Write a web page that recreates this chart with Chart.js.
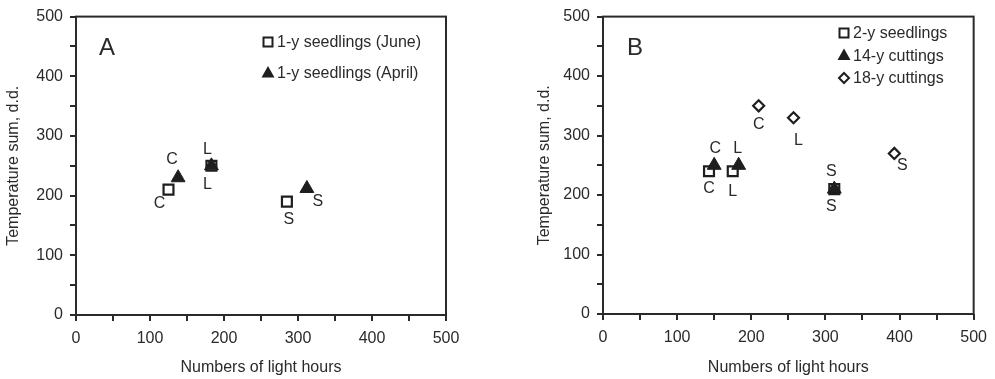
<!DOCTYPE html>
<html>
<head>
<meta charset="utf-8">
<script src="https://cdn.jsdelivr.net/npm/chart.js@4.4.1/dist/chart.umd.min.js"></script>
<style>
  html, body { margin: 0; padding: 0; background: #fff; }
  #wrap { position: relative; width: 995px; height: 379px; }
  .pan  { position: absolute; top: 0; height: 379px; }
  #pA   { left: 0;     width: 470px; }
  #pB   { left: 526px; width: 469px; }
</style>
</head>
<body>
<div id="wrap">
  <div class="pan" id="pA"><canvas id="chA"></canvas></div>
  <div class="pan" id="pB"><canvas id="chB"></canvas></div>
</div>
<script>
// ============================================================
// Temperature sum vs light hours — two panels (A, B)
// ============================================================

// ── Datos ────────────────────────────────────────────────────
const X_LABELLED = [0, 100, 200, 300, 400, 500];
const Y_LABELLED = [0, 100, 200, 300, 400, 500];
const PT_NAMES   = ['C', 'L', 'S'];

// Panel A
const A_JUNE_X  = [125, 183, 285];
const A_JUNE_Y  = [210, 250, 190];
const A_APRIL_X = [138, 183, 312];
const A_APRIL_Y = [230, 250, 212];

// Panel B
const B_SEED_X  = [143, 175, 312];
const B_SEED_Y  = [240, 240, 210];
const B_CUT14_X = [150, 183, 312];
const B_CUT14_Y = [250, 250, 210];
const B_CUT18_X = [210, 257, 393];
const B_CUT18_Y = [350, 330, 270];

// ── Estilo ───────────────────────────────────────────────────
const INK  = '#1e1e1e';
const TXT  = '#2a2a2a';
const FONT = 'Arial, "Liberation Sans", Helvetica, sans-serif';

// offset (px) of each point letter from its marker: [dx, dy]
const OFF = {
    aJune:  [[-9, 14], [-4, 19], [2, 18]],
    aApril: [[-6, -18], [-4, -16], [11, 13]],
    bSeed:  [[0, 17], [0, 20], [-3, 18]],
    bCut14: [[1, -17], [-1, -17], [-3, -17]],
    bCut18: [[0, 19], [5, 23], [8, 12]],
};

const MARK = {
    rect:     { pointStyle: 'rect',     pointRadius: 7,   pointBorderWidth: 2.2, pointBackgroundColor: '#fff' },
    triangle: { pointStyle: 'triangle', pointRadius: 8,   pointBorderWidth: 1,   pointBackgroundColor: INK },
    rectRot:  { pointStyle: 'rectRot',  pointRadius: 5.5, pointBorderWidth: 2.2, pointBackgroundColor: '#fff' },
};

const pts = (xs, ys) => xs.map((x, i) => ({ x, y: ys[i] }));

function dataset(label, xs, ys, style, off, order) {
    return {
        label, data: pts(xs, ys), order,
        ...MARK[style], pointBorderColor: INK, pointHoverRadius: MARK[style].pointRadius,
        showLine: false, clip: false,
        _style: style, _names: PT_NAMES, _off: off,
    };
}

// ── Marcadores de la leyenda ─────────────────────────────────
function marker(ctx, style, x, y) {
    ctx.save();
    ctx.strokeStyle = INK; ctx.fillStyle = INK; ctx.lineWidth = 2;
    ctx.beginPath();
    if (style === 'rect') {
        ctx.rect(x - 4.5, y - 4.5, 9, 9);
        ctx.fillStyle = '#fff'; ctx.fill(); ctx.stroke();
    } else if (style === 'triangle') {
        ctx.moveTo(x, y - 7); ctx.lineTo(x + 6.5, y + 4.5); ctx.lineTo(x - 6.5, y + 4.5);
        ctx.closePath(); ctx.fill();
    } else {
        ctx.moveTo(x, y - 5); ctx.lineTo(x + 5, y); ctx.lineTo(x, y + 5); ctx.lineTo(x - 5, y);
        ctx.closePath(); ctx.fillStyle = '#fff'; ctx.fill(); ctx.stroke();
    }
    ctx.restore();
}

// ── Plugin: marco, letra de panel, etiquetas y leyenda ───────
const decor = {
    id: 'decor',
    afterDatasetsDraw(chart, args, o) {
        const { ctx, chartArea: a } = chart;
        ctx.save();
        // marco
        ctx.strokeStyle = TXT; ctx.lineWidth = 2;
        ctx.strokeRect(a.left, a.top, a.right - a.left, a.bottom - a.top);
        // letra del panel
        ctx.fillStyle = TXT; ctx.textAlign = 'center'; ctx.textBaseline = 'middle';
        ctx.font = '24px ' + FONT;
        ctx.fillText(o.letter, a.left + o.letterAt[0], a.top + o.letterAt[1]);
        // etiquetas de puntos
        ctx.font = '16px ' + FONT;
        chart.data.datasets.forEach((ds, di) => {
            const meta = chart.getDatasetMeta(di);
            meta.data.forEach((el, i) => {
                const [dx, dy] = ds._off[i];
                ctx.fillText(ds._names[i], el.x + dx, el.y + dy);
            });
        });
        // leyenda
        ctx.textAlign = 'left';
        chart.data.datasets.forEach((ds, i) => {
            const y = o.legend.y + i * o.legend.dy;
            marker(ctx, ds._style, o.legend.x, y);
            ctx.fillStyle = TXT;
            ctx.fillText(ds.label, o.legend.x + 9, y + 1);
        });
        ctx.restore();
    },
};

function axis(labelled, title, fitSize, titlePad) {
    const horiz = title.startsWith('Numbers');
    return {
        type: 'linear', min: 0, max: 500,
        border: { display: false },
        grid: { drawOnChartArea: false, drawTicks: true, tickLength: 6, color: TXT, lineWidth: 2 },
        ticks: {
            stepSize: 50, autoSkip: false, maxRotation: 0,
            padding: horiz ? 8 : 7,
            color: TXT, font: { family: FONT, size: 16 },
            callback: v => labelled.includes(v) ? String(v) : '',
        },
        title: { display: true, text: title, color: TXT, font: { family: FONT, size: 16 }, padding: titlePad },
        afterFit: s => { if (horiz) s.height = fitSize; else s.width = fitSize; },
    };
}

function buildPanel(id, datasets, o) {
    const ctx = document.getElementById(id).getContext('2d');
    return new Chart(ctx, {
        type: 'scatter',
        data: { datasets },
        plugins: [decor],
        options: {
            responsive: true, maintainAspectRatio: false, animation: false, devicePixelRatio: 1,
            layout: { padding: o.pad },
            plugins: { legend: { display: false }, tooltip: { enabled: false }, decor: o },
            scales: {
                x: axis(X_LABELLED, 'Numbers of light hours', o.xH, { top: 0, bottom: 2 }),
                y: axis(Y_LABELLED, 'Temperature sum, d.d.', o.yW, { top: o.yTitlePad, bottom: 0 }),
            },
        },
    });
}

buildPanel('chA', [
    dataset('1-y seedlings (June)',  A_JUNE_X,  A_JUNE_Y,  'rect',     OFF.aJune,  2),
    dataset('1-y seedlings (April)', A_APRIL_X, A_APRIL_Y, 'triangle', OFF.aApril, 1),
], {
    pad: { left: 0, right: 24, top: 16, bottom: 0 }, xH: 64, yW: 76, yTitlePad: 4.4,
    letter: 'A', letterAt: [31, 32],
    legend: { x: 268, y: 42, dy: 31 },
});

buildPanel('chB', [
    dataset('2-y seedlings', B_SEED_X,  B_SEED_Y,  'rect',     OFF.bSeed,  3),
    dataset('14-y cuttings', B_CUT14_X, B_CUT14_Y, 'triangle', OFF.bCut14, 1),
    dataset('18-y cuttings', B_CUT18_X, B_CUT18_Y, 'rectRot',  OFF.bCut18, 2),
], {
    pad: { left: 0, right: 18, top: 16, bottom: 0 }, xH: 65, yW: 77, yTitlePad: 9.4,
    letter: 'B', letterAt: [32, 32],
    legend: { x: 318, y: 33, dy: 22.5 },
});
</script>
</body>
</html>
